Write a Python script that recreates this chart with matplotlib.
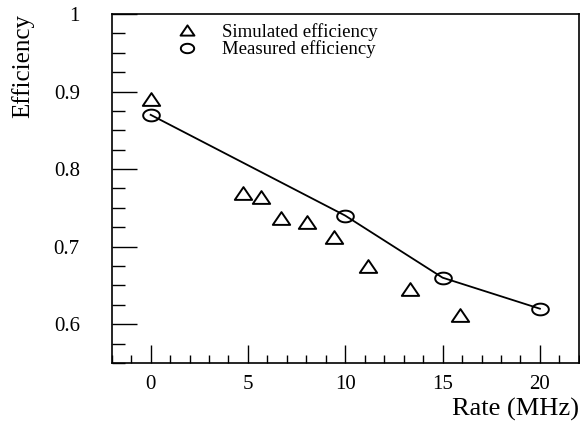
import numpy as np
import matplotlib
matplotlib.use("Agg")
import matplotlib.pyplot as plt
from matplotlib.path import Path
from matplotlib.ticker import MultipleLocator, FixedLocator, FuncFormatter

plt.rcParams['font.family'] = ['Liberation Serif', 'DejaVu Serif']

# simulated efficiency vs. rate
sim_rate = [0.0, 4.74, 5.65, 6.71, 8.02, 9.44, 11.15, 13.33, 15.88]
sim_eff = [0.890, 0.769, 0.764, 0.737, 0.732, 0.712, 0.675, 0.645, 0.612]

# measured efficiency vs. rate
meas_rate = [0, 10, 15, 20]
meas_eff = [0.87, 0.74, 0.66, 0.62]

y_major = [0.6, 0.7, 0.8, 0.9, 1.0]

# wide (stretched) marker shapes
tri = Path([(-0.68, -0.5), (0.68, -0.5), (0.0, 0.5), (-0.68, -0.5)],
           [Path.MOVETO, Path.LINETO, Path.LINETO, Path.CLOSEPOLY])
theta = np.linspace(0, 2 * np.pi, 60)
ell = Path(np.column_stack([0.71 * np.cos(theta), 0.5 * np.sin(theta)]), closed=True)

fig = plt.figure(figsize=(5.8, 4.24), dpi=100)
ax = fig.add_axes([0.1926, 0.1439, 0.8054, 0.8231])

ax.plot(meas_rate, meas_eff, color='black', lw=1.3, zorder=2)
h_sim, = ax.plot(sim_rate, sim_eff, ls='none', marker=tri, ms=12.5,
                 mfc='none', mec='black', mew=1.4, zorder=3)
h_meas, = ax.plot(meas_rate, meas_eff, ls='none', marker=ell, ms=12,
                  mfc='none', mec='black', mew=1.4, zorder=3)

ax.set_xlim(-2, 22)
ax.set_ylim(0.55, 1.0)

ax.xaxis.set_major_locator(MultipleLocator(5))
ax.xaxis.set_minor_locator(MultipleLocator(1))
ax.yaxis.set_major_locator(FixedLocator(y_major))
ax.yaxis.set_minor_locator(MultipleLocator(0.025))
ax.yaxis.set_major_formatter(FuncFormatter(lambda v, p: '%g' % round(v, 3)))

ax.tick_params(which='both', direction='in', top=False, right=False,
               color='black', width=1.0, labelsize=15)
ax.tick_params(axis='x', which='major', length=12.7, pad=9)
ax.tick_params(axis='x', which='minor', length=5.5)
ax.tick_params(axis='y', which='major', length=18, pad=23)
ax.tick_params(axis='y', which='minor', length=9.4)
for s in ax.spines.values():
    s.set_linewidth(1.2)

ax.set_xlabel('Rate (MHz)', fontsize=19, loc='right')
ax.xaxis.set_label_coords(1.0, -0.1)
ax.set_ylabel('Efficiency', fontsize=18, loc='top')
ax.yaxis.set_label_coords(-0.166, 1.0)

ax.legend([h_sim, h_meas], ['Simulated efficiency', 'Measured efficiency'],
          loc='upper left', bbox_to_anchor=(0.142, 0.975), frameon=False,
          fontsize=13.5, markerscale=0.8, handlelength=1.0, handletextpad=1.35,
          borderpad=0, borderaxespad=0, labelspacing=0.0)

fig.savefig('out.png', dpi=100, facecolor='white')
